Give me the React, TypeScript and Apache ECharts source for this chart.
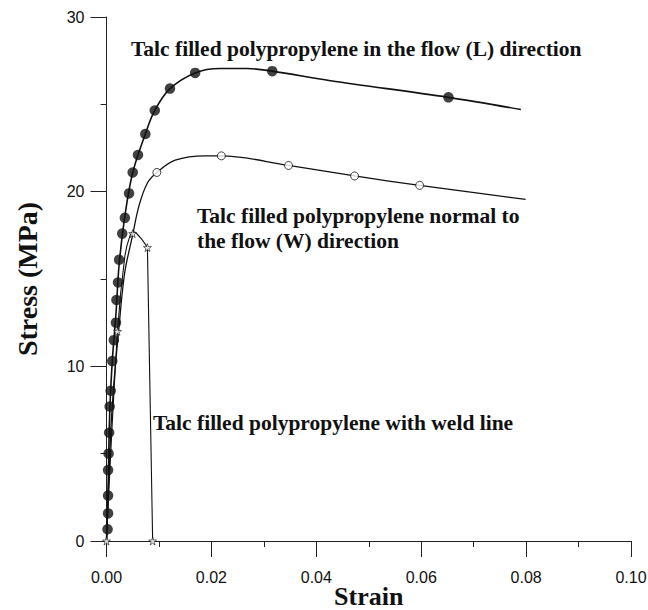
import React, { useEffect, useRef } from "react";
import * as echarts from "echarts";

// Talc filled PP, flow (L) direction: measured points
const lPoints: [number, number][] = [
  [0.0002, 0.67], [0.0003, 1.58], [0.0003, 2.6], [0.0003, 4.06], [0.0004, 5.0],
  [0.0005, 6.2], [0.0006, 7.7], [0.0008, 8.6], [0.0011, 10.3], [0.0014, 11.5],
  [0.0018, 12.5], [0.0019, 13.8], [0.0022, 14.8], [0.0024, 16.1], [0.003, 17.6],
  [0.0035, 18.5], [0.0043, 19.9], [0.005, 21.1], [0.006, 22.1], [0.0074, 23.3],
  [0.0092, 24.65], [0.0121, 25.9], [0.0169, 26.8], [0.0316, 26.9], [0.0652, 25.4],
];
// L fitted curve
const lCurve: [number, number][] = [
  [0, 0], [0.0003, 3.0], [0.0006, 7.2], [0.0011, 10.3], [0.0018, 13.0],
  [0.0024, 15.8], [0.0035, 18.6], [0.005, 21.1], [0.0074, 23.3], [0.0092, 24.65],
  [0.0121, 25.9], [0.0169, 26.8], [0.0217, 27.05], [0.0268, 27.05], [0.0316, 26.9],
  [0.0427, 26.35], [0.0652, 25.4], [0.079, 24.7],
];
// Normal to flow (W) direction
const wPoints: [number, number][] = [
  [0.0096, 21.1], [0.0219, 22.05], [0.0347, 21.5], [0.0473, 20.9], [0.0597, 20.36],
];
const wCurve: [number, number][] = [
  [0, 0], [0.0008, 6.2], [0.0013, 8.6], [0.0018, 10.4], [0.0024, 12.3],
  [0.003, 14.2], [0.0036, 15.6], [0.0049, 17.4], [0.0062, 19.2], [0.0078, 20.5],
  [0.0096, 21.1], [0.0131, 21.8], [0.0188, 22.05], [0.0219, 22.05], [0.0347, 21.5],
  [0.0473, 20.9], [0.0597, 20.36], [0.0799, 19.56],
];
// With weld line
const weldPoints: [number, number][] = [
  [0, 0], [0.0021, 12.0], [0.005, 17.6], [0.0078, 16.8], [0.0088, 0],
];
const weldCurve: [number, number][] = [
  [0, 0], [0.0021, 12.0], [0.0035, 16.3], [0.0045, 17.5], [0.0052, 17.7],
  [0.0065, 17.35], [0.0078, 16.8],
];
const weldDrop: [number, number][] = [[0.0078, 16.8], [0.0088, 0]];

const labelL = "Talc filled polypropylene in the flow (L) direction";
const labelW1 = "Talc filled polypropylene normal to";
const labelW2 = "the flow (W) direction";
const labelWeld = "Talc filled polypropylene with weld line";

const STAR =
  "path://M50,0 L61,35 L98,35 L68,57 L79,91 L50,70 L21,91 L32,57 L2,35 L39,35 Z";

export default function App() {
  const ref = useRef<HTMLDivElement>(null);
  useEffect(() => {
    document.body.style.margin = "0";
    const chart = echarts.init(ref.current!, null, { renderer: "svg" });
    const ink = "#111";
    const serif = '"Liberation Serif", "Times New Roman", serif';
    const sans = '"Liberation Sans", Arial, sans-serif';
    const annFont = `bold 21.5px ${serif}`;
    chart.setOption({
      animation: false,
      backgroundColor: "#fff",
      grid: { left: 106.5, right: 17, top: 17, bottom: 69, outerBoundsMode: "none", containLabel: false },
      xAxis: {
        type: "value",
        min: 0,
        max: 0.1,
        interval: 0.02,
        name: "Strain",
        nameLocation: "middle",
        nameGap: 42,
        nameMoveOverlap: false,
        nameTextStyle: { fontFamily: serif, fontWeight: "bold", fontSize: 26, color: ink },
        axisLine: { show: true, lineStyle: { color: "#222", width: 1 } },
        axisTick: { show: true, length: 16, inside: false, lineStyle: { color: "#222" } },
        minorTick: { show: true, splitNumber: 2, length: 6, lineStyle: { color: "#222" } },
        splitLine: { show: false },
        axisLabel: {
          margin: 28,
          fontFamily: sans,
          fontSize: 16,
          color: ink,
          formatter: (v: number) => v.toFixed(2),
        },
      },
      yAxis: {
        type: "value",
        min: 0,
        max: 30,
        interval: 10,
        name: "Stress (MPa)",
        nameLocation: "middle",
        nameGap: 65,
        nameMoveOverlap: false,
        nameTextStyle: { fontFamily: serif, fontWeight: "bold", fontSize: 28, color: ink },
        axisLine: { show: true, lineStyle: { color: "#222", width: 1 } },
        axisTick: { show: true, length: 16, inside: false, lineStyle: { color: "#222" } },
        minorTick: { show: true, splitNumber: 2, length: 6, lineStyle: { color: "#222" } },
        splitLine: { show: false },
        axisLabel: { margin: 22, fontFamily: sans, fontSize: 16, color: ink },
      },
      graphic: [
        { type: "text", x: 131, y: 49, style: { text: labelL, font: annFont, fill: ink, verticalAlign: "middle" } },
        { type: "text", x: 197, y: 216, style: { text: labelW1, font: annFont, fill: ink, verticalAlign: "middle" } },
        { type: "text", x: 197, y: 241, style: { text: labelW2, font: annFont, fill: ink, verticalAlign: "middle" } },
        { type: "text", x: 153, y: 423, style: { text: labelWeld, font: annFont, fill: ink, verticalAlign: "middle" } },
      ],
      series: [
        {
          type: "line", data: lCurve, smooth: 0.35, showSymbol: false,
          lineStyle: { color: ink, width: 1.6 }, z: 2,
        },
        {
          type: "scatter", data: lPoints, symbol: "circle", symbolSize: 10.5,
          itemStyle: { color: ink }, z: 3,
        },
        {
          type: "line", data: wCurve, smooth: 0.35, showSymbol: false,
          lineStyle: { color: ink, width: 1.3 }, z: 2,
        },
        {
          type: "scatter", data: wPoints, symbol: "circle", symbolSize: 8,
          itemStyle: { color: "#fff", borderColor: ink, borderWidth: 1 }, z: 3,
        },
        {
          type: "line", data: weldCurve, smooth: 0.35, showSymbol: false,
          lineStyle: { color: ink, width: 1.1 }, z: 2,
        },
        {
          type: "line", data: weldDrop, smooth: false, showSymbol: false,
          lineStyle: { color: ink, width: 1.1 }, z: 2,
        },
        {
          type: "scatter", data: weldPoints, symbol: STAR, symbolSize: 8,
          itemStyle: { color: "#fff", borderColor: ink, borderWidth: 0.8 }, z: 4,
        },
      ],
    });
    return () => chart.dispose();
  }, []);
  return <div ref={ref} style={{ width: 648, height: 610 }} />;
}
